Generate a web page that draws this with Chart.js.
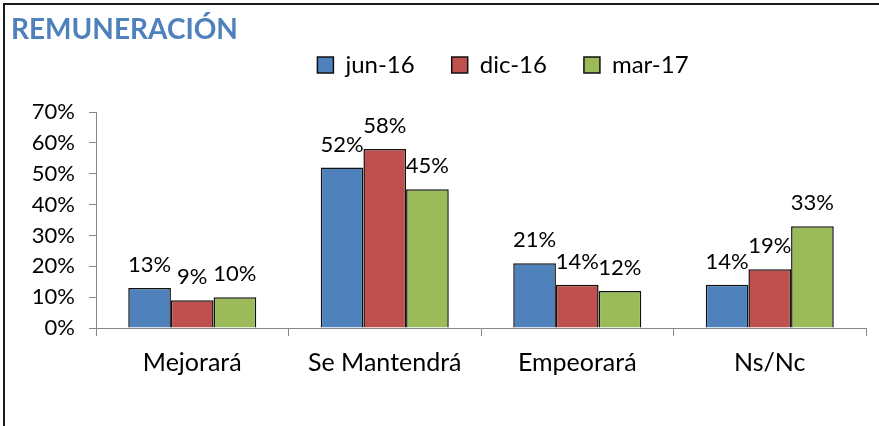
<!DOCTYPE html>
<html lang="es">
<head>
<meta charset="utf-8">
<title>Remuneración</title>
<script src="https://cdn.jsdelivr.net/npm/chart.js@4.4.0/dist/chart.umd.min.js"></script>
<style>
    html, body { margin: 0; padding: 0; background: #fff; overflow: hidden; }
    canvas { display: block; }
</style>
</head>
<body>
<canvas id="chart" width="879" height="426"></canvas>
<script>
const categories = ["Mejorará", "Se Mantendrá", "Empeorará", "Ns/Nc"];
const seriesNames = ["jun-16", "dic-16", "mar-17"];
const jun16 = [13, 52, 21, 14];
const dic16 = [9, 58, 14, 19];
const mar17 = [10, 45, 12, 33];
const yTicks = [0, 10, 20, 30, 40, 50, 60, 70];

const FONT = "Lato";
const AXIS = "#868686";
const COLORS = ["#4F81BD", "#C0504D", "#9BBB59"];

function makeDataset(label, values, color) {
    return {
        label: label,
        data: values,
        backgroundColor: color,
        borderColor: "#111",
        borderWidth: 1.5,
        borderSkipped: "bottom",
        categoryPercentage: 0.665,
        barPercentage: 1,
    };
}

// draws the value above each bar, using the bar positions from the chart
const barLabels = {
    id: "barLabels",
    afterDatasetsDraw(chart) {
        const ctx = chart.ctx;
        ctx.save();
        ctx.font = "22px " + FONT;
        ctx.fillStyle = "#000";
        ctx.textAlign = "center";
        ctx.textBaseline = "alphabetic";
        chart.data.datasets.forEach((dataset, i) => {
            chart.getDatasetMeta(i).data.forEach((bar, j) => {
                ctx.fillText(dataset.data[j] + "%", bar.x, bar.y - 16);
            });
        });
        ctx.restore();
    },
};

// nudges title and legend to where the original chart has them
const placeHeader = {
    id: "placeHeader",
    afterLayout(chart) {
        const t = chart.titleBlock, l = chart.legend;
        t.left += 11; t.right += 11; t.top += 6; t.bottom += 6;
        l.left += 70; l.right += 70; l.top -= 25; l.bottom -= 25;
    },
};

// chart frame: only its top and left edges fall inside the picture
const frame = {
    id: "frame",
    afterDraw(chart) {
        const ctx = chart.ctx;
        ctx.save();
        ctx.fillStyle = "#1a1a1a";
        ctx.fillRect(3, 3, 2, chart.height - 3);
        ctx.fillRect(3, 3, chart.width - 3, 2);
        ctx.restore();
    },
};

const chart = new Chart(document.getElementById("chart"), {
    type: "bar",
    data: {
        labels: categories,
        datasets: [
            makeDataset(seriesNames[0], jun16, COLORS[0]),
            makeDataset(seriesNames[1], dic16, COLORS[1]),
            makeDataset(seriesNames[2], mar17, COLORS[2]),
        ],
    },
    options: {
        responsive: false,
        animation: false,
        layout: { padding: { left: 0, right: 13, top: 7.4, bottom: 0 } },
        plugins: {
            title: {
                display: true,
                text: "REMUNERACIÓN",
                align: "start",
                color: "#4F81BD",
                font: { family: FONT, size: 28, weight: "bold" },
                padding: { top: 0, bottom: 0 },
            },
            legend: {
                display: true,
                position: "top",
                labels: {
                    color: "#000",
                    font: { family: FONT, size: 24 },
                    boxWidth: 16,
                    boxHeight: 16,
                    padding: 37,
                },
            },
            tooltip: { enabled: false },
        },
        scales: {
            x: {
                offset: true,
                grid: { display: true, offset: true, drawOnChartArea: false, drawTicks: true, tickLength: 8, color: AXIS },
                border: { display: true, color: AXIS, width: 1 },
                ticks: { color: "#000", font: { family: FONT, size: 25 }, padding: 12, maxRotation: 0 },
                afterFit(scale) { scale.height = 98; },
            },
            y: {
                min: yTicks[0],
                max: yTicks[yTicks.length - 1],
                afterBuildTicks(scale) { scale.ticks = yTicks.map((v) => ({ value: v })); },
                ticks: { color: "#000", font: { family: FONT, size: 22 }, padding: 14, callback: (v) => v + "%" },
                grid: { display: true, drawOnChartArea: false, drawTicks: true, tickLength: 7, color: AXIS },
                border: { display: true, color: AXIS, width: 1 },
                afterFit(scale) { scale.width = 96; },
            },
        },
    },
    plugins: [barLabels, placeHeader, frame],
});
</script>
</body>
</html>
